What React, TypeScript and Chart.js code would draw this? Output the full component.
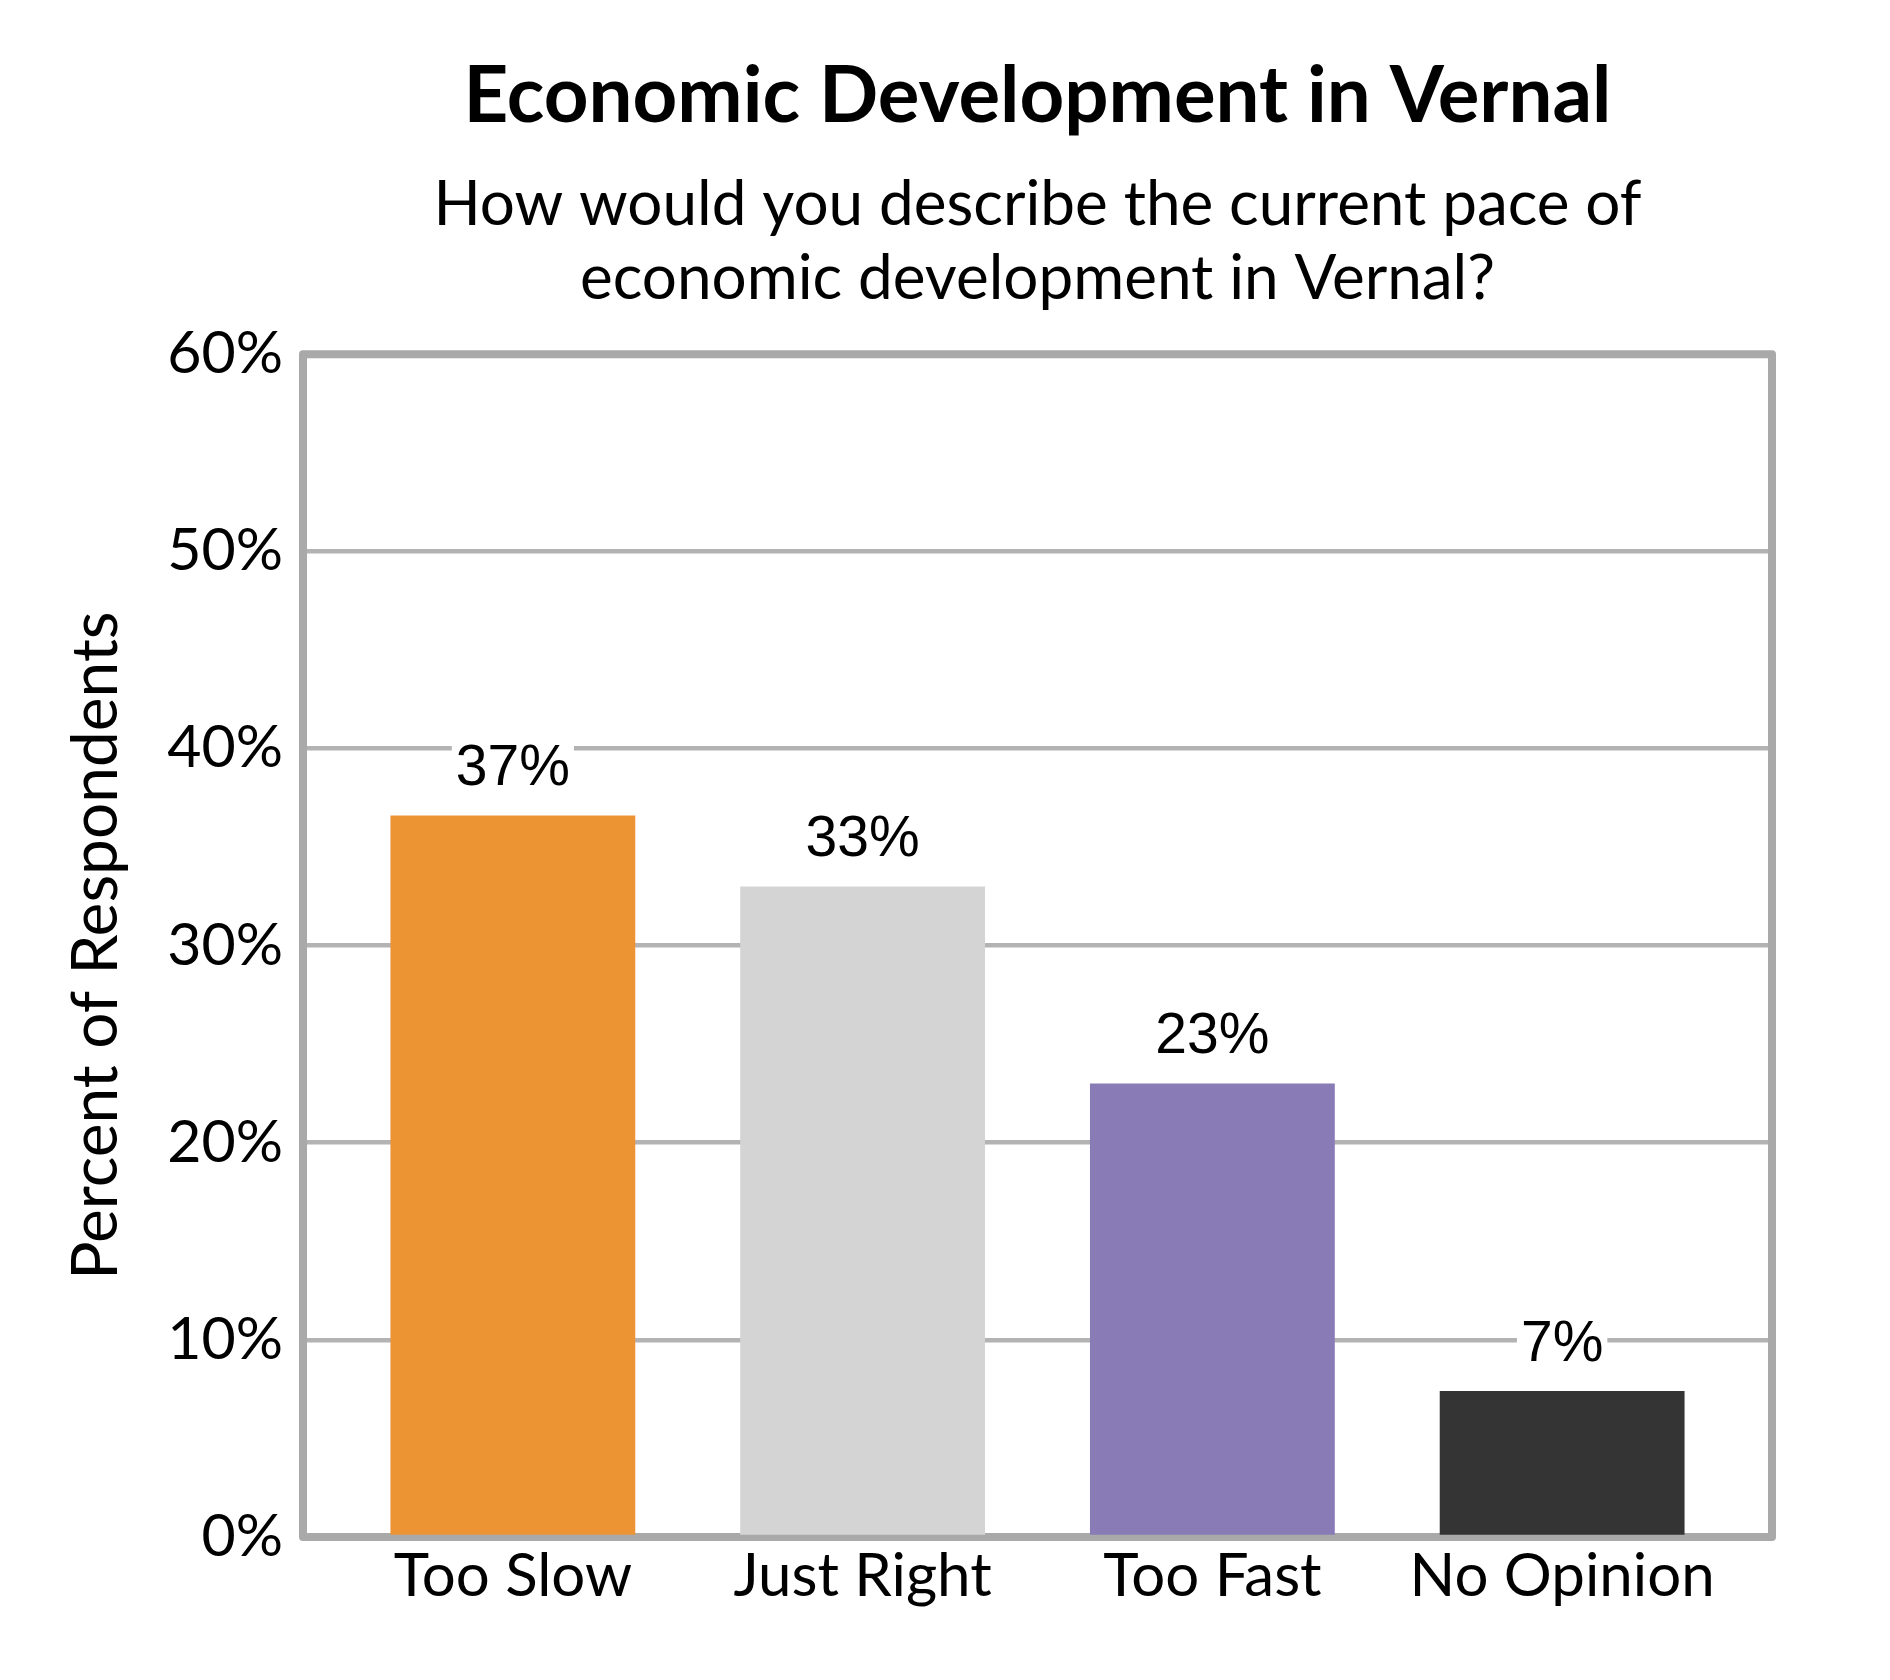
import { useEffect, useRef } from "react";
import { Chart, registerables } from "chart.js";

Chart.register(...registerables);

const CATEGORIES = ["Too Slow", "Just Right", "Too Fast", "No Opinion"];
const PERCENTS = [36.6, 33.0, 23.0, 7.4];
const BAR_COLORS = ["#EC9334", "#D4D4D4", "#897CB6", "#343434"];
const Y_TICKS = [0, 10, 20, 30, 40, 50, 60];

const TITLE = "Economic Development in Vernal";
const SUBTITLE = [
  "How would you describe the current pace of",
  "economic development in Vernal?",
];
const Y_TITLE = "Percent of Respondents";

const FONT = "Lato";

// grey box round the plot area, drawn under the bars
const framePlugin = {
  id: "frame",
  beforeDatasetsDraw(chart: any) {
    const { ctx, chartArea } = chart;
    ctx.save();
    ctx.strokeStyle = "#a9a9a9";
    ctx.lineWidth = 8;
    ctx.lineJoin = "round";
    ctx.strokeRect(
      chartArea.left,
      chartArea.top,
      chartArea.right - chartArea.left,
      chartArea.bottom - chartArea.top
    );
    ctx.restore();
  },
};

// value labels above each bar, on a white patch that hides the grid line
const valueLabels = {
  id: "valueLabels",
  afterDatasetsDraw(chart: any) {
    const { ctx } = chart;
    const meta = chart.getDatasetMeta(0);
    ctx.save();
    ctx.font = "57px 'Liberation Sans', Arial, sans-serif";
    ctx.textAlign = "center";
    ctx.textBaseline = "middle";
    meta.data.forEach((bar: any, i: number) => {
      const text = Math.round(PERCENTS[i]) + "%";
      const w = ctx.measureText(text).width;
      const y = bar.y - 46;
      ctx.fillStyle = "#ffffff";
      ctx.fillRect(bar.x - w / 2 - 4, y - 28, w + 8, 56);
      ctx.fillStyle = "#000000";
      ctx.fillText(text, bar.x, y);
    });
    ctx.restore();
  },
};

const App = () => {
  const chartRef = useRef<HTMLCanvasElement>(null);

  useEffect(() => {
    document.body.style.margin = "0";
    if (!chartRef.current) return;

    const chart = new Chart(chartRef.current, {
      type: "bar",
      data: {
        datasets: [
          {
            data: PERCENTS.map((v, i) => ({ x: i, y: v })),
            backgroundColor: BAR_COLORS,
            categoryPercentage: 1,
            barPercentage: 0.7,
          },
        ],
      },
      options: {
        animation: false,
        responsive: false,
        layout: { padding: { left: 0, right: 118, top: 0, bottom: 0 } },
        plugins: {
          legend: { display: false },
          tooltip: { enabled: false },
          title: {
            display: true,
            text: TITLE,
            fullSize: false,
            color: "#000",
            font: { family: FONT, size: 78, weight: "bold", lineHeight: 1.2 },
            padding: { top: 50, bottom: 13 },
          },
          subtitle: {
            display: true,
            text: SUBTITLE,
            fullSize: false,
            color: "#000",
            font: { family: FONT, size: 62, lineHeight: 1.19 },
            padding: { top: 12, bottom: 38 },
          },
        },
        scales: {
          x: {
            type: "linear",
            min: -0.6,
            max: 3.6,
            offset: false,
            afterBuildTicks: (scale: any) => {
              scale.ticks = CATEGORIES.map((_, i) => ({ value: i }));
            },
            afterFit: (scale: any) => {
              scale.height = 143;
            },
            grid: { display: false, offset: false },
            border: { display: false },
            ticks: {
              autoSkip: false,
              maxRotation: 0,
              color: "#000",
              padding: -4,
              font: { family: FONT, size: 60 },
              callback: (v: any) => CATEGORIES[v as number],
            },
          },
          y: {
            min: 0,
            max: 60,
            afterBuildTicks: (scale: any) => {
              scale.ticks = Y_TICKS.map((value) => ({ value }));
            },
            afterFit: (scale: any) => {
              scale.width = 303;
            },
            grid: { color: "#b3b3b3", lineWidth: 4.5, drawTicks: false },
            border: { display: false },
            ticks: {
              color: "#000",
              padding: 20,
              font: { family: FONT, size: 59 },
              callback: (v: any) => v + "%",
            },
            title: {
              display: true,
              text: Y_TITLE,
              color: "#000",
              font: { family: FONT, size: 64, lineHeight: 1.2 },
              padding: { top: 58, bottom: 0 },
            },
          },
        },
      },
      plugins: [framePlugin, valueLabels],
    });

    return () => {
      chart.destroy();
    };
  }, []);

  return (
    <canvas
      ref={chartRef}
      width={1890}
      height={1680}
      style={{ display: "block", width: "1890px", height: "1680px", backgroundColor: "#fff" }}
    />
  );
};

export default App;
